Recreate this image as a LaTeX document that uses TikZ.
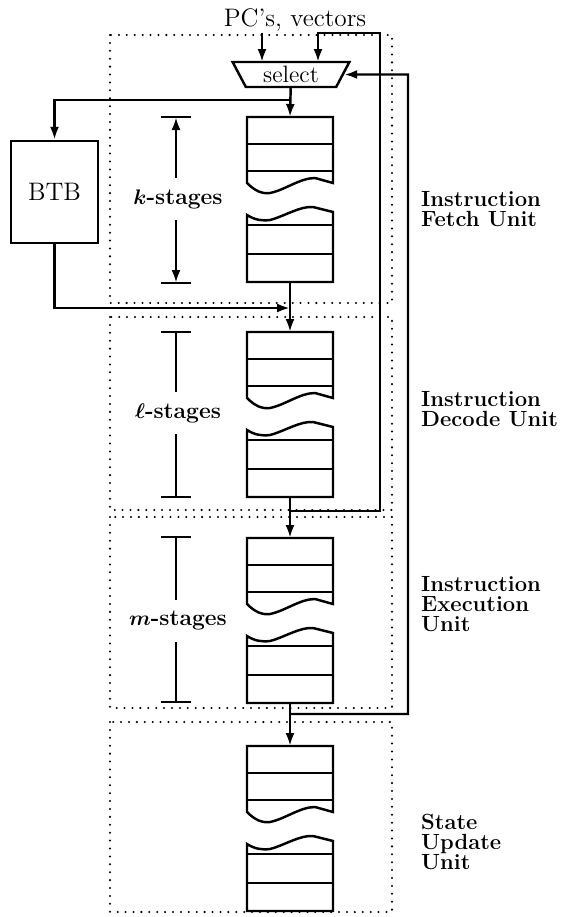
\documentclass[tikz,border=0pt]{standalone}
\usepackage{bm}
\usetikzlibrary{arrows.meta,shapes.geometric}

\begin{document}
\begin{tikzpicture}[
  x=0.02cm, y=-0.02cm,
  line width=1.4pt,
  unitbox/.style={line width=1.3pt,line cap=round,dash pattern=on 0pt off 4.5pt},
  flow/.style={-{Latex[length=2.6mm,width=1.8mm]}},
  big/.style={font=\fontsize{14.4}{17}\selectfont},
  stagelab/.style={font=\bfseries\fontsize{13}{15}\selectfont,inner xsep=0pt,inner ysep=6pt},
  unitlab/.style={font=\bfseries\fontsize{12.5}{11.5}\selectfont,align=left,anchor=west,inner sep=0pt}
]
  \useasboundingbox (0,0) rectangle (565,917);

  % dotted unit frames
  \draw[unitbox] (110,35) rectangle (392,303);
  \draw[unitbox] (110,317) rectangle (392,510);
  \draw[unitbox] (110,517) rectangle (392,708);
  \draw[unitbox] (110,722) rectangle (392,912);

  % register stacks, one per unit
  \foreach \u/\t in {fetch/117,decode/332,exec/538,state/746}{
    \begin{scope}[shift={(0,\t)}]
      \coordinate (\u-in) at (290,0);
      \coordinate (\u-out) at (290,165);
      \draw (247,0) -- (333,0) -- (333,66) -- (315,61)
        .. controls (300,61) and (285,73) .. (270,76)
        .. controls (262,77) and (255,74) .. (247,66) -- cycle;
      \draw (247,27) -- (333,27) (247,54) -- (333,54);
      \draw (247,98) .. controls (255,103) and (262,104) .. (270,103)
        .. controls (285,99) and (300,89) .. (313,90) -- (333,95)
        -- (333,165) -- (247,165) -- cycle;
      \draw (247,108) -- (333,108) (247,137) -- (333,137);
    \end{scope}
  }

  \node[big,inner sep=0pt] (pc) at (295,20) {PC's, vectors};
  \node[draw,trapezium,shape border rotate=180,trapezium left angle=64,
    trapezium right angle=64,trapezium stretches=true,minimum width=2.34cm,
    minimum height=0.5cm,inner sep=0pt,font=\fontsize{13.5}{15}\selectfont]
    (sel) at (291,74.5) {\raisebox{-2pt}{select}};
  \node[draw,big,minimum width=1.74cm,minimum height=2.04cm] (btb) at (54.5,192) {BTB};

  \coordinate (selA) at (262,62);
  \coordinate (selB) at (318,62);
  \coordinate (split) at (290,100);
  \coordinate (merge) at (290,308);
  \coordinate (dec-tap) at (290,511);
  \coordinate (exe-tap) at (290,714);
  \coordinate (loopD) at (380,33);
  \coordinate (loopE) at (408,0);

  \draw[flow] (pc.south -| selA) -- (selA);
  \draw[flow] (sel) -- (fetch-in);
  \draw[flow] (split) -| (btb.north);
  \draw[flow] (btb.south) |- (merge);
  \draw[flow] (fetch-out) -- (decode-in);
  \draw[flow] (decode-out) -- (exec-in);
  \draw[flow] (exec-out) -- (state-in);
  \draw[flow] (dec-tap) -| (loopD) -| (selB);
  \draw[flow] (exe-tap) -| (loopE |- sel) -- (sel);

  % stage brackets
  \node[stagelab] (klab) at (178,199) {$\bm{k}$-stages};
  \coordinate (kTop) at (176,117);
  \coordinate (kBot) at (176,283);
  \draw[flow] (klab.north -| kTop) -- (kTop);
  \draw[flow] (klab.south -| kBot) -- (kBot);
  \draw (kTop) ++(-15,0) -- ++(30,0);
  \draw (kBot) ++(-15,0) -- ++(30,0);

  \node[stagelab] (llab) at (178,413) {$\bm{\ell}$-stages};
  \coordinate (lTop) at (176,332);
  \coordinate (lBot) at (176,497);
  \draw (llab.north -| lTop) -- (lTop) ++(-15,0) -- ++(30,0);
  \draw (llab.south -| lBot) -- (lBot) ++(-15,0) -- ++(30,0);

  \node[stagelab] (mlab) at (178,621) {$\bm{m}$-stages};
  \coordinate (mTop) at (176,537);
  \coordinate (mBot) at (176,702);
  \draw (mlab.north -| mTop) -- (mTop) ++(-15,0) -- ++(30,0);
  \draw (mlab.south -| mBot) -- (mBot) ++(-15,0) -- ++(30,0);

  % unit names
  \node[unitlab] (fetchlab) at (420,209) {Instruction\\Fetch Unit};
  \node[unitlab] (declab) at (420,409) {Instruction\\Decode Unit};
  \node[unitlab] (exelab) at (420,604) {Instruction\\Execution\\Unit};
  \node[unitlab] (statelab) at (420,842) {State\\Update\\Unit};
\end{tikzpicture}
\end{document}
